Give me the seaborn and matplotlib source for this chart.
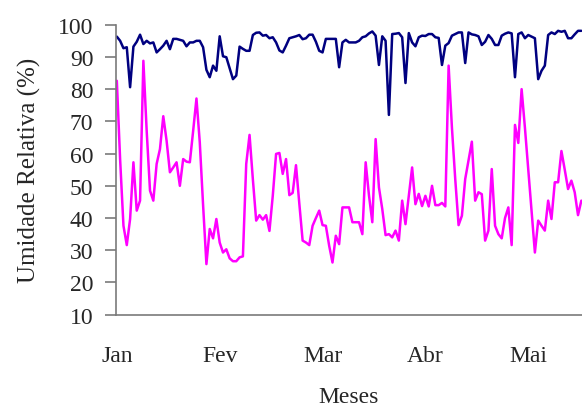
import numpy as np
import pandas as pd
import matplotlib
matplotlib.use("Agg")
import matplotlib.pyplot as plt
import seaborn as sns

meses = ["Jan", "Fev", "Mar", "Abr", "Mai"]
mes_pos = [0, 31, 62, 93, 124]

ur_max = [
    96.3, 95.0, 92.7, 93.0, 80.6, 93.2, 94.7, 96.9, 94.0, 95.0,
    94.2, 94.5, 91.4, 92.4, 93.5, 95.0, 92.4, 95.6, 95.6, 95.3,
    95.0, 93.3, 94.5, 94.5, 95.0, 95.0, 93.0, 86.0, 83.7, 87.3,
    85.7, 96.4, 90.2, 89.9, 86.5, 83.1, 84.2, 93.2, 92.5, 91.9,
    91.9, 96.8, 97.5, 97.6, 96.6, 96.8, 95.8, 96.1, 94.5, 92.0,
    91.4, 93.5, 95.8, 96.1, 96.4, 96.8, 95.5, 95.8, 96.9, 96.9,
    94.7, 91.9, 91.4, 95.6, 95.6, 95.6, 95.6, 86.8, 94.5, 95.3,
    94.5, 94.5, 94.5, 95.0, 96.1, 96.4, 97.3, 97.9, 96.6, 87.5,
    96.4, 95.0, 72.0, 97.1, 97.2, 97.4, 96.1, 81.9, 97.4, 94.5,
    93.3, 96.1, 96.6, 96.5, 97.1, 97.1, 96.1, 95.9, 87.5, 93.5,
    94.3, 96.6, 97.1, 97.6, 97.6, 88.1, 97.6, 97.0, 96.8, 96.4,
    93.7, 94.7, 96.8, 95.6, 93.7, 93.7, 96.6, 97.2, 97.6, 97.3,
    83.7, 97.1, 97.6, 95.8, 96.8, 96.3, 95.8, 83.1, 85.7, 87.3,
    96.8, 97.6, 97.1, 98.1, 97.8, 98.1, 95.8, 95.8, 97.0, 98.1,
    98.1,
]

ur_min = [
    82.6, 58.0, 37.6, 31.6, 39.7, 57.3, 42.3, 45.4, 88.8, 67.0,
    48.5, 45.4, 56.8, 61.4, 71.6, 64.0, 54.2, 55.7, 57.3, 50.0,
    58.3, 57.5, 57.3, 67.0, 77.1, 63.5, 44.0, 25.7, 36.6, 33.7,
    39.7, 32.4, 29.3, 30.3, 27.5, 26.6, 26.6, 27.8, 28.1, 56.8,
    65.8, 52.0, 39.2, 40.9, 39.5, 40.9, 36.0, 46.9, 59.9, 60.2,
    53.7, 58.3, 47.1, 47.8, 56.4, 44.5, 33.0, 32.4, 31.6, 37.6,
    40.0, 42.3, 37.8, 37.6, 31.4, 26.2, 34.5, 31.9, 43.3, 43.3,
    43.3, 38.7, 38.7, 38.7, 35.0, 57.3, 47.0, 38.7, 64.5, 49.5,
    42.8, 34.7, 35.0, 34.0, 36.1, 33.0, 45.4, 38.1, 47.0, 55.7,
    44.3, 47.5, 43.7, 46.9, 43.6, 50.0, 44.0, 44.0, 44.7, 43.6,
    87.3, 68.0, 52.0, 37.8, 40.7, 52.1, 58.0, 63.7, 45.4, 48.0,
    47.4, 33.0, 36.1, 55.2, 37.6, 35.0, 33.7, 40.0, 43.3, 31.6,
    68.9, 63.3, 80.0, 68.0, 55.0, 42.0, 29.3, 39.2, 37.6, 36.1,
    45.4, 39.7, 51.1, 51.1, 60.8, 55.0, 49.0, 51.6, 48.0, 40.9,
    45.4,
]

dias = np.arange(len(ur_max))
df = pd.concat([
    pd.DataFrame({"dia": dias, "UR": ur_max, "serie": "max"}),
    pd.DataFrame({"dia": dias, "UR": ur_min, "serie": "min"}),
])

sns.set_style("white")
plt.rcParams["font.family"] = ["Liberation Serif", "DejaVu Serif"]

fig = plt.figure(figsize=(5.82, 4.10), dpi=100)
ax = fig.add_axes([115.5 / 582, 1 - 315.7 / 410, 1 - 115.5 / 582, (315.7 - 25.7) / 410])

sns.lineplot(data=df, x="dia", y="UR", hue="serie",
             palette={"max": "#000080", "min": "#FF00FF"},
             linewidth=1.8, legend=False, ax=ax)

ax.set_ylim(10, 100)
ax.set_xlim(-0.4, 140.2)
ax.set_yticks(np.arange(10, 101, 10))
ax.set_xticks(mes_pos)
ax.set_xticklabels(meses)

for s in ["top", "right"]:
    ax.spines[s].set_visible(False)
for s in ["left", "bottom"]:
    ax.spines[s].set_color("#7a7a7a")
    ax.spines[s].set_linewidth(1.2)

ax.tick_params(axis="y", direction="out", length=8, width=1.2, color="#7a7a7a",
               labelsize=17, pad=8, left=True)
ax.tick_params(axis="x", length=0, labelsize=17, pad=22)

ax.set_xlabel("Meses", fontsize=17, labelpad=14)
ax.set_ylabel("Umidade Relativa (%)", fontsize=18, labelpad=12)

fig.savefig("out.png", dpi=100)
